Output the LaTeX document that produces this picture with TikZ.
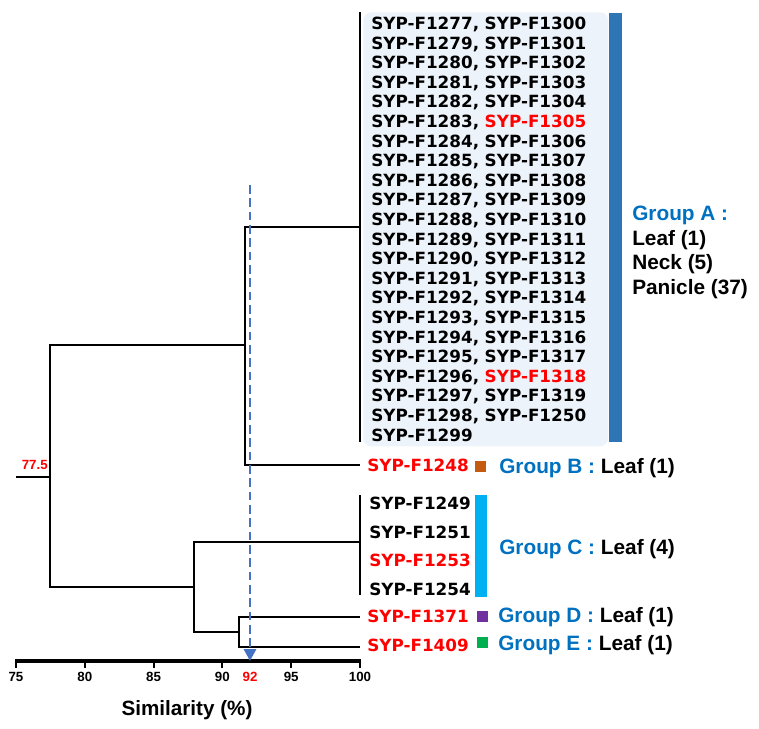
\documentclass[tikz,border=0pt]{standalone}
\usepackage{fontspec}
\setmainfont{Liberation Sans}
\newfontfamily\tipfont{DejaVu Sans}
\usetikzlibrary{positioning,arrows.meta}

\definecolor{boxfill}{RGB}{237,243,250}
\definecolor{barA}{RGB}{46,117,182}
\definecolor{grpblue}{RGB}{0,112,192}
\definecolor{tipred}{RGB}{255,0,0}
\definecolor{barC}{RGB}{0,176,240}
\definecolor{sqB}{RGB}{197,90,17}
\definecolor{sqD}{RGB}{112,48,160}
\definecolor{sqE}{RGB}{0,176,80}
\definecolor{cutblue}{RGB}{68,114,196}

\newcommand{\rtip}[1]{\textcolor{tipred}{#1}}
\newcommand{\gname}[1]{\textcolor{grpblue}{#1}}

\begin{document}
\begin{tikzpicture}[x=0.75pt, y=-0.75pt,
branch/.style={line width=1.8pt, black},
axisline/.style={line width=2.4pt, black},
tickmark/.style={line width=1.6pt, black},
cutline/.style={line width=2.2pt, cutblue, dash pattern=on 6.5pt off 3.5pt, -{Triangle[width=9pt,length=9pt]}},
tip/.style={font=\tipfont\bfseries\fontsize{12.6}{14.7}\selectfont, inner sep=0pt, anchor=west, text height=9.2pt, text depth=0pt},
redtip/.style={tip, text=tipred},
listbox/.style={fill=boxfill, rounded corners=6pt, inner xsep=6pt, inner ysep=0pt, text width=171.75pt, align=left, minimum height=325.5pt, font=\tipfont\bfseries\fontsize{12.6}{14.7}\selectfont},
grpfont/.style={font=\bfseries\fontsize{15.6}{18.4}\selectfont, inner sep=0pt},
grp/.style={grpfont, anchor=west, text height=11.2pt, text depth=0pt},
sqbox/.style={minimum size=8.25pt, inner sep=0pt},
ticklabel/.style={font=\bfseries\fontsize{10}{12}\selectfont, inner sep=0pt, text height=7.2pt, text depth=0pt},
]
\useasboundingbox (0,0) rectangle (759,728);

%Group A box
\node[listbox, anchor=north west] (listA) at (363,12) {SYP-F1277, SYP-F1300\\
SYP-F1279, SYP-F1301\\
SYP-F1280, SYP-F1302\\
SYP-F1281, SYP-F1303\\
SYP-F1282, SYP-F1304\\
SYP-F1283, \rtip{SYP-F1305}\\
SYP-F1284, SYP-F1306\\
SYP-F1285, SYP-F1307\\
SYP-F1286, SYP-F1308\\
SYP-F1287, SYP-F1309\\
SYP-F1288, SYP-F1310\\
SYP-F1289, SYP-F1311\\
SYP-F1290, SYP-F1312\\
SYP-F1291, SYP-F1313\\
SYP-F1292, SYP-F1314\\
SYP-F1293, SYP-F1315\\
SYP-F1294, SYP-F1316\\
SYP-F1295, SYP-F1317\\
SYP-F1296, \rtip{SYP-F1318}\\
SYP-F1297, SYP-F1319\\
SYP-F1298, SYP-F1250\\
SYP-F1299};
\fill[barA] (609,13) rectangle (622,442);

%Coordinates of the tree
\coordinate (tipA) at (360,227);
\coordinate (nAB) at (245,345);
\coordinate (tipB) at (360,465);
\coordinate (root) at (50,477);
\coordinate (stub) at (16,477);
\coordinate (nCDE) at (194,587);
\coordinate (tipC) at (360,542);
\coordinate (nDE) at (239,632);
\coordinate (tipD) at (360,617);
\coordinate (tipE) at (360,647);
\coordinate (barAtop) at (360,12);
\coordinate (barAbot) at (360,442);
\coordinate (barCtop) at (360,495);
\coordinate (barCbot) at (360,595);

%Tree
\draw[branch] (barAtop) -- (barAbot);
\draw[branch] (barCtop) -- (barCbot);
\draw[branch] (tipA) -| (nAB) |- (tipB);
\draw[branch] (nAB) -| (root) |- (nCDE);
\draw[branch] (tipC) -| (nCDE) |- (nDE);
\draw[branch] (tipD) -| (nDE) |- (tipE);
\draw[branch] (stub) -- (root);
\node[font=\bfseries\fontsize{10}{12}\selectfont, text=tipred, inner sep=0pt, anchor=east] (rootval) at (48,465) {77.5};

%Tips
\node[redtip] (tB) at (367,465) {SYP-F1248};
\node[tip] (tC1) at (369,503) {SYP-F1249};
\node[tip] (tC2) at (369,532) {SYP-F1251};
\node[redtip] (tC3) at (369,560) {SYP-F1253};
\node[tip] (tC4) at (369,589) {SYP-F1254};
\node[redtip] (tD) at (367,616) {SYP-F1371};
\node[redtip] (tE) at (367,645) {SYP-F1409};

%Markers
\node[sqbox, fill=sqB] (sqB) at (480,466) {};
\fill[barC] (475,495) rectangle (487,597);
\node[sqbox, fill=sqD] (sqD) at (482,616) {};
\node[sqbox, fill=sqE] (sqE) at (482,642.5) {};

%Group labels
\node[grpfont, anchor=north west, align=left] (grpA) at (632,206) {\gname{Group A :}\\Leaf (1)\\Neck (5)\\Panicle (37)};
\node[grp] (grpB) at (499,466) {\gname{Group B :} Leaf (1)};
\node[grp] (grpC) at (499,547) {\gname{Group C :} Leaf (4)};
\node[grp] (grpD) at (498,615) {\gname{Group D :} Leaf (1)};
\node[grp] (grpE) at (498,643) {\gname{Group E :} Leaf (1)};

%Axis
\coordinate (axL) at (15,661);
\coordinate (axR) at (361,661);
\draw[axisline] (axL) -- (axR);
\foreach \v in {75,80,...,100}{
  \draw[tickmark] ({16+13.76*(\v-75)},661) -- ++(0,7);
  \node[ticklabel] (t\v) at ({16+13.76*(\v-75)},677) {\v};
}
\node[ticklabel, text=tipred] (t92) at (250,677) {92};
\node[font=\bfseries\fontsize{15.5}{18}\selectfont, inner sep=0pt, text height=11.1pt, text depth=0pt] (xlabel) at (187,708) {Similarity (\%)};

%Cut-off line
\coordinate (cuttop) at (250,185);
\coordinate (cutbot) at (250,661);
\draw[cutline] (cuttop) -- (cutbot);
\end{tikzpicture}
\end{document}
